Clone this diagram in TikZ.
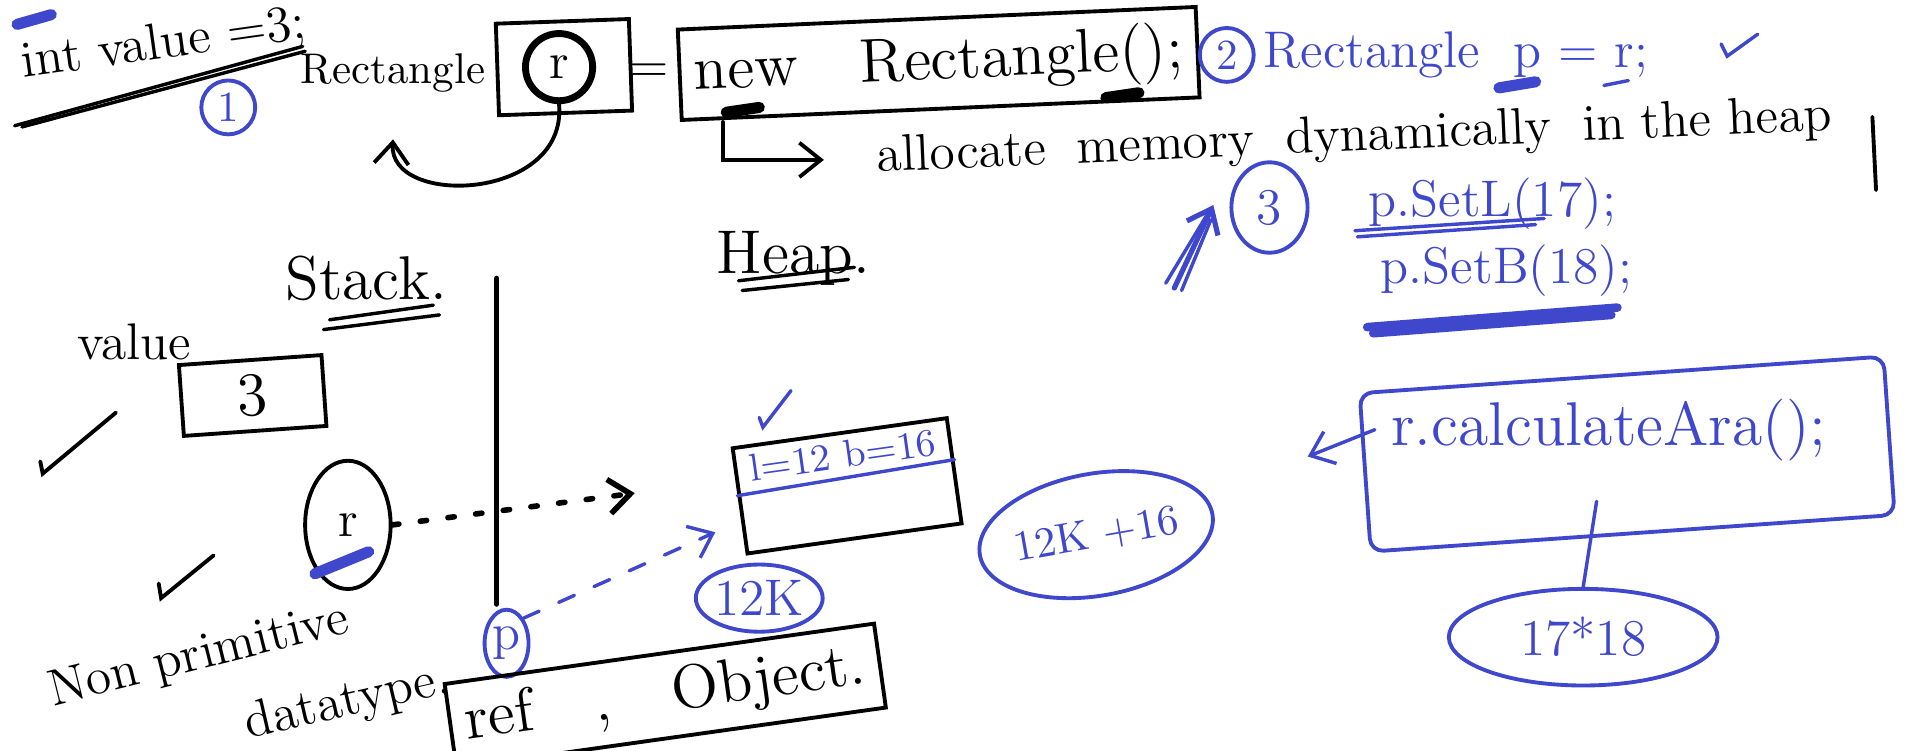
\documentclass[tikz,border=0pt]{standalone}
\usepackage{tikz}
\usetikzlibrary{positioning,arrows.meta,shapes.geometric,calc}
\definecolor{penblue}{RGB}{63,72,204}

\begin{document}
\begin{tikzpicture}[x=0.01cm, y=-0.01cm, line width=0.9pt, line cap=round, font=\large,
  pen/.style={draw=penblue, text=penblue},
  bluetext/.style={text=penblue},
  tip/.style={-{Straight Barb[length=5pt,width=8pt]}},
  stroke/.style={line width=2.6pt}]
  \useasboundingbox (0,0) rectangle (1568,615);

  % top line: the declarations
  \node[rotate=8] (decl) at (134,37) {int value =3;};
  \draw[stroke, penblue] (14,20) -- (42,12);
  \draw[thick] (12,103) -- (248,38);
  \draw[thick] (18,104) -- (250,42);
  \node[pen, circle, draw, inner sep=1.5pt, font=\normalsize] (one) at (187,88) {1};

  \node[font=\normalsize] (rectword) at (322,60) {Rectangle};
  \node[draw, rotate=2, minimum width=1.09cm, minimum height=0.75cm] (rbox) at (462,55) {};
  \node[draw, circle, line width=1.6pt, minimum size=0.55cm, inner sep=0pt] (r) at (458,55) {r};
  \draw[tip] (r.south) .. controls (465,165) and (318,170) .. ([yshift=-0.25cm]rectword.south);
  \node (eq) at (532,60) {=};
  \node[draw, rotate=2.5, minimum width=4.1cm, minimum height=0.62cm, font=\Large] (newbox) at (769,52) {new\hspace{1em}Rectangle();};
  \draw[stroke] (595,92) -- (622,88);
  \draw[stroke] (906,80) -- (933,76);

  \node[rotate=2.5, anchor=west] (alloc) at (705,131) {allocate\hspace{0.6em}memory\hspace{0.6em}dynamically\hspace{0.6em}in the heap};
  \draw[tip] ([xshift=0.35cm]newbox.south west) |- ([xshift=-0.3cm]alloc.west);
  \draw ([xshift=0.2cm]alloc.east) -- ++(3,60);

  % step 2
  \node[pen, circle, draw, inner sep=1.5pt, font=\normalsize] (two) at (1005,45) {2};
  \node[bluetext, anchor=west] (alias) at (1022,45) {Rectangle\ \ p = r;};
  \draw[stroke, penblue] (1228,72) -- (1258,67);
  \draw[penblue, thick] (1314,70) -- (1334,66);
  \draw[penblue, thick] (1410,36) -- (1415,46) -- (1440,28);

  % step 3
  \node[pen, ellipse, draw, minimum width=0.45cm, minimum height=0.55cm] (three) at (1040,170) {3};
  \draw[penblue, very thick, tip] (962,236) -- (994,168);
  \draw[penblue, thick] (955,232) -- (990,174);
  \draw[penblue, thick] (968,238) -- (992,180);

  \node[bluetext, anchor=west] (setl) at (1108,167) {p.SetL(17);};
  \draw[penblue, thick] (1110,189) -- (1265,179);
  \draw[penblue, thick] (1112,194) -- (1258,184);
  \node[bluetext, anchor=west] (setb) at (1118,222) {p.SetB(18);};
  \draw[penblue, line width=2pt] (1120,268) -- (1325,252);
  \draw[penblue, line width=2pt] (1125,273) -- (1320,258);

  % method call
  \node[pen, draw, rotate=4, minimum width=4.3cm, minimum height=1.3cm, rounded corners=3pt] (callbox) at (1333,372) {};
  \node[bluetext, font=\Large] (call) at (1318,352) {r.calculateAra();};
  \draw[penblue, thick, tip] (call.west) -- ++(-55,22);
  \node[pen, draw, ellipse, minimum width=2.2cm, minimum height=0.75cm] (prod) at (1297,522) {17*18};
  \draw[penblue, thick] ([xshift=-0.1cm, yshift=-0.2cm]call.south) -- (prod.north);

  % stack and heap
  \node[font=\Large] (stack) at (300,228) {Stack.};
  \draw[thick] (270,262) -- (355,250);
  \draw[thick] (265,270) -- (360,258);
  \draw[very thick] (407,228) -- (407,495);
  \node[font=\Large] (heap) at (650,212) {Heap.};
  \draw[thick] (605,230) -- (700,219);
  \draw[thick] (608,238) -- (695,229);

  \node (valname) at (110,280) {value};
  \node[draw, rotate=4, minimum width=1.17cm, minimum height=0.55cm, font=\Large] (valbox) at (207,324) {3};
  \draw (33,378) -- (35,388) -- (95,338);
  \draw (130,478) -- (132,490) -- (175,455);

  \node[draw, ellipse, minimum width=0.7cm, minimum height=1.05cm] (rref) at (285,430) {r};
  \draw[stroke, penblue] (258,470) -- (302,452);
  \coordinate (heapptr) at (520,404);
  \draw[line width=1.3pt, dash pattern=on 1.5pt off 5pt, tip] (rref.east) -- (heapptr);

  \node[rotate=14] (nonprim) at (163,538) {Non primitive};
  \node[rotate=13] (dtype) at (285,576) {datatype.};

  \node[pen, draw, ellipse, minimum width=0.36cm, minimum height=0.55cm, inner sep=0pt] (pref) at (415,527) {p};
  \coordinate (objleft) at (586,436);
  \draw[penblue, thick, dash pattern=on 4pt off 5pt, tip] (pref.north east) -- (objleft);

  \node[draw, rotate=8, minimum width=3.55cm, minimum height=0.5cm, font=\Large] (refobj) at (545,570) {ref\quad,\quad Object.};

  % the object in the heap
  \node[draw, rotate=8, minimum width=1.77cm, minimum height=0.87cm] (obj) at (694,398) {};
  \draw[penblue, thick] ($(obj.north west)!0.45!(obj.south west)$) -- ($(obj.north east)!0.4!(obj.south east)$);
  \node[bluetext, rotate=8, font=\small] (dims) at ($(obj.north)!0.22!(obj.south)$) {l=12 b=16};
  \draw[penblue, thick] (622,342) -- (625,350) -- (648,320);
  \node[pen, draw, ellipse, minimum width=1.0cm, minimum height=0.55cm, inner sep=0pt] (addr) at (622,490) {12K};
  \node[pen, draw, ellipse, rotate=10, inner sep=0pt, minimum width=1.75cm, minimum height=1cm, font=\normalsize] (size) at (898,438) {12K +16};
\end{tikzpicture}
\end{document}
